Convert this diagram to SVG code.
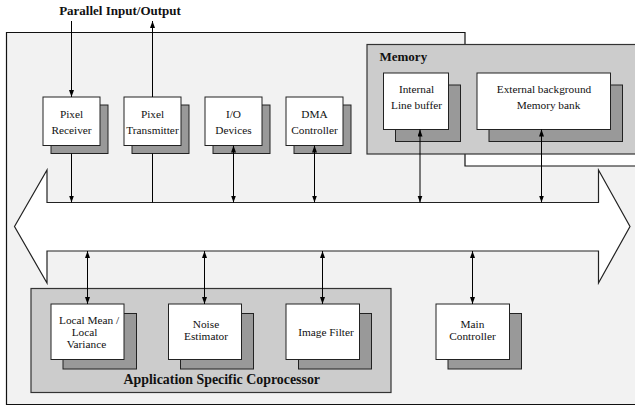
<svg xmlns="http://www.w3.org/2000/svg" width="635" height="407" viewBox="0 0 635 407">
<style>
.box{fill:#fff;stroke:#222;stroke-width:1}
.sh{fill:#999;stroke:#222;stroke-width:1}
.grp{fill:#ccc;stroke:#333;stroke-width:1.2}
.t{font-family:"Liberation Serif","Times New Roman",serif;font-size:11.3px;fill:#111;text-anchor:middle}
.b{font-family:"Liberation Serif","Times New Roman",serif;font-weight:bold;font-size:13px;fill:#111}
.c{stroke:#000;stroke-width:1;fill:none}
.d{marker-start:url(#ah);marker-end:url(#ah)}
.e{marker-end:url(#ah)}
</style>
<defs>
<marker id="ah" markerUnits="userSpaceOnUse" markerWidth="8" markerHeight="6" refX="7" refY="2.5" orient="auto-start-reverse">
<path d="M0,0 L7,2.5 L0,5 Z" fill="#000"/>
</marker>
</defs>
<rect width="635" height="407" fill="#fff"/>
<g id="outer">
<path d="M6.5,32.5 H465 V166 H640 V404.5 H6.5 Z" fill="#f2f2f2" stroke="#111" stroke-width="1.2"/>
</g>
<text class="b" x="120" y="15" text-anchor="middle">Parallel Input/Output</text>
<g id="memory">
<rect class="grp" x="367" y="44.5" width="280" height="109.5"/>
<text class="b" x="379.5" y="61">Memory</text>
</g>
<g id="coprocessor">
<rect class="grp" x="31" y="288.5" width="360" height="104"/>
<text class="b" x="123.5" y="383.5" style="font-size:13.9px">Application Specific Coprocessor</text>
</g>
<g id="bus">
<path d="M14.5,226.5 L47,170 V202.5 H598.5 V170 L630,226.5 L598.5,283 V251 H47 V283 Z" fill="#fff" stroke="#222" stroke-width="1.2"/>
</g>
<g id="pixel-receiver">
<rect class="sh" x="51" y="105" width="57" height="48.5"/>
<rect class="box" x="43" y="97" width="57" height="48.5"/>
<text class="t" x="71.5" y="117.5">Pixel</text>
<text class="t" x="71.5" y="133.5">Receiver</text>
</g>
<g id="pixel-transmitter">
<rect class="sh" x="132" y="105" width="57" height="48.5"/>
<rect class="box" x="124" y="97" width="57" height="48.5"/>
<text class="t" x="152.5" y="117.5">Pixel</text>
<text class="t" x="152.5" y="133.5">Transmitter</text>
</g>
<g id="io-devices">
<rect class="sh" x="213" y="105" width="57" height="48.5"/>
<rect class="box" x="205" y="97" width="57" height="48.5"/>
<text class="t" x="233.5" y="117.5">I/O</text>
<text class="t" x="233.5" y="133.5">Devices</text>
</g>
<g id="dma-controller">
<rect class="sh" x="294" y="105" width="57" height="48.5"/>
<rect class="box" x="286" y="97" width="57" height="48.5"/>
<text class="t" x="314.5" y="117.5">DMA</text>
<text class="t" x="314.5" y="133.5">Controller</text>
</g>
<g id="internal-line-buffer">
<rect class="sh" x="395.5" y="85" width="65" height="56.5"/>
<rect class="box" x="383.5" y="73" width="65" height="56.5"/>
<text class="t" x="416.5" y="92.7">Internal</text>
<text class="t" x="416.5" y="108.5">Line buffer</text>
</g>
<g id="external-memory">
<rect class="sh" x="489" y="85" width="133.5" height="56.5"/>
<rect class="box" x="477" y="73" width="133.5" height="56.5"/>
<text class="t" x="544" y="92.7">External background</text>
<text class="t" x="548.5" y="108.5">Memory bank</text>
</g>
<g id="local-mean">
<rect class="sh" x="63" y="313.5" width="73.5" height="55.5"/>
<rect class="box" x="51" y="304" width="73" height="55.5"/>
<text class="t" x="59" y="324" style="text-anchor:start">Local Mean /</text>
<text class="t" x="71.7" y="336" style="text-anchor:start">Local</text>
<text class="t" x="66.7" y="347.5" style="text-anchor:start">Variance</text>
</g>
<g id="noise-estimator">
<rect class="sh" x="180.5" y="313.5" width="73" height="55.5"/>
<rect class="box" x="168.5" y="304" width="73" height="55.5"/>
<text class="t" x="206" y="328.3">Noise</text>
<text class="t" x="206" y="339.8">Estimator</text>
</g>
<g id="image-filter">
<rect class="sh" x="298.5" y="313.5" width="73" height="55.5"/>
<rect class="box" x="286" y="304" width="73.5" height="55.5"/>
<text class="t" x="326" y="335.5">Image Filter</text>
</g>
<g id="main-controller">
<rect class="sh" x="448" y="313.5" width="73.5" height="55.5"/>
<rect class="box" x="436" y="304" width="73.5" height="55.5"/>
<text class="t" x="472.5" y="328.3">Main</text>
<text class="t" x="472.5" y="340">Controller</text>
</g>
<g id="connectors">
<line class="c e" x1="71.5" y1="21" x2="71.5" y2="97"/>
<line class="c e" x1="71.5" y1="153.5" x2="71.5" y2="202.5"/>
<line class="c e" x1="152.5" y1="97" x2="152.5" y2="21"/>
<line class="c" x1="152.5" y1="153.5" x2="152.5" y2="202.5"/>
<line class="c d" x1="233.5" y1="145.5" x2="233.5" y2="202.5"/>
<line class="c d" x1="314.5" y1="145.5" x2="314.5" y2="202.5"/>
<line class="c d" x1="420" y1="129.5" x2="420" y2="202.5"/>
<line class="c d" x1="541.5" y1="129.5" x2="541.5" y2="202.5"/>
<line class="c d" x1="87.5" y1="251" x2="87.5" y2="304"/>
<line class="c d" x1="204.5" y1="251" x2="204.5" y2="304"/>
<line class="c d" x1="322.5" y1="251" x2="322.5" y2="304"/>
<line class="c d" x1="472.5" y1="251" x2="472.5" y2="304"/>
</g>
</svg>
